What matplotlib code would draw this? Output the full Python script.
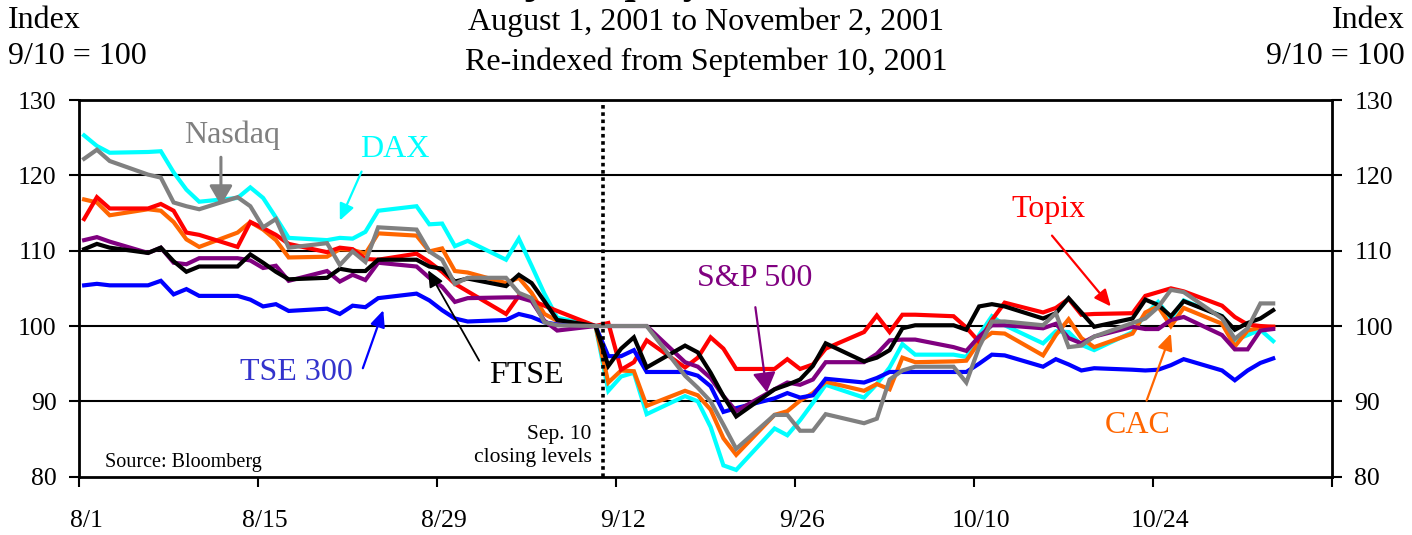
import pandas as pd
import matplotlib.pyplot as plt
from matplotlib.transforms import ScaledTranslation

plt.rcParams['font.family'] = ['Liberation Serif', 'DejaVu Serif']

# trading days, 2001
dates = ['8/1', '8/2', '8/3', '8/6', '8/7', '8/8', '8/9', '8/10', '8/13', '8/14',
         '8/15', '8/16', '8/17', '8/20', '8/21', '8/22', '8/23', '8/24', '8/27', '8/28',
         '8/29', '8/30', '8/31',
         '9/3', '9/4', '9/5', '9/6', '9/7', '9/10', '9/11', '9/12', '9/13', '9/14',
         '9/17', '9/18', '9/19', '9/20', '9/21', '9/24', '9/25', '9/26', '9/27', '9/28',
         '10/1', '10/2', '10/3', '10/4', '10/5', '10/8', '10/9', '10/10', '10/11', '10/12',
         '10/15', '10/16', '10/17', '10/18', '10/19', '10/22', '10/23', '10/24', '10/25',
         '10/26', '10/29', '10/30', '10/31',
         '11/1', '11/2']

dax = [125.3, 123.9, 123.0, 123.1, 123.2, 120.4, 118.1, 116.5, 117.0, 118.4,
       117.0, 114.4, 111.7, 111.4, 111.7, 111.6, 112.5, 115.3, 115.9, 113.5,
       113.6, 110.6, 111.3,
       108.8, 111.6, 108.0, 104.3, 101.1, 100.0, 91.4, 93.3, 93.8, 88.3,
       90.7, 90.0, 86.6, 81.5, 80.9, 86.4, 85.5, 87.5, 89.8, 92.2,
       90.5, 92.3, 94.5, 97.6, 96.2, 96.2, 95.9, 98.8, 101.3, 100.1,
       97.7, 99.3, 99.2, 97.5, 96.8, 99.2, 101.5, 103.2, 101.0,
       103.4, 101.3, 98.1, 98.8,
       99.5, 98.0]

nasdaq = [122.2, 123.4, 121.9, 120.1, 119.7, 116.4, 115.9, 115.5, 117.1, 115.9,
          113.1, 114.2, 110.4, 111.0, 108.1, 109.9, 108.5, 113.1, 112.8, 109.9,
          108.8, 105.6, 106.4,
          106.4, 104.4, 103.7, 100.5, 100.1, 100.0, 100.0, 100.0, 100.0, 100.0,
          93.4, 91.8, 90.0, 86.9, 83.7, 88.2, 88.2, 86.1, 86.1, 88.3,
          87.1, 87.7, 92.9, 94.1, 94.6, 94.6, 92.5, 97.2, 100.6, 100.6,
          100.1, 101.7, 97.2, 97.4, 98.6, 100.4, 101.0, 102.5, 104.8,
          104.5, 101.0, 98.3, 99.7,
          103.0, 103.0]

topix = [114.2, 117.1, 115.6, 115.6, 116.2, 115.3, 112.4, 112.1, 110.5, 113.8,
         113.0, 112.1, 110.9, 109.8, 110.4, 110.2, 108.9, 108.8, 109.6, 108.5,
         107.2, 105.6, 104.6,
         101.6, 104.0, 103.4, 102.7, 102.0, 100.0, 100.4, 94.2, 95.2, 98.1,
         94.5, 95.8, 98.5, 97.0, 94.3, 94.3, 95.6, 94.3, 94.9, 97.0,
         99.2, 101.4, 99.2, 101.5, 101.5, 101.3, 99.8, 97.9, 100.8, 103.1,
         101.8, 102.4, 103.6, 101.5, 101.6, 101.7, 104.0, 104.5, 105.0,
         104.6, 102.7, 101.2, 100.2,
         100.0, 99.9]

cac = [116.8, 116.4, 114.7, 115.5, 115.3, 113.8, 111.5, 110.5, 112.4, 113.8,
       112.8, 111.4, 109.1, 109.2, 110.2, 110.1, 109.6, 112.3, 112.0, 109.9,
       110.3, 107.3, 107.1,
       105.7, 106.4, 104.4, 101.6, 100.7, 100.0, 92.5, 94.1, 94.0, 89.4,
       91.4, 90.8, 88.9, 85.1, 82.9, 88.2, 88.7, 90.1, 91.1, 92.6,
       91.4, 92.3, 91.6, 95.8, 95.2, 95.3, 95.4, 97.9, 99.1, 99.0,
       96.1, 98.8, 100.9, 98.4, 97.2, 99.0, 101.8, 102.6, 100.0,
       102.4, 100.3, 97.3, 99.4,
       99.8, 99.9]

ftse = [110.2, 110.9, 110.4, 109.7, 110.4, 108.6, 107.2, 107.9, 107.9, 109.5,
        108.4, 107.2, 106.2, 106.4, 107.6, 107.3, 107.3, 108.8, 108.8, 107.9,
        107.6, 105.9, 106.3,
        105.3, 106.8, 105.7, 103.3, 100.8, 100.0, 94.7, 97.0, 98.5, 94.5,
        97.4, 96.5, 93.8, 90.7, 88.0, 91.6, 92.2, 92.9, 94.7, 97.7,
        95.3, 95.8, 96.8, 99.7, 100.1, 100.1, 99.5, 102.6, 102.9, 102.6,
        101.0, 101.7, 103.7, 101.8, 99.9, 101.0, 103.5, 102.8, 101.3,
        103.3, 101.3, 99.5, 100.4,
        101.0, 102.1]

sp500 = [111.4, 111.8, 111.2, 109.7, 110.4, 108.4, 108.2, 109.0, 109.0, 108.7,
         107.7, 108.0, 106.0, 107.3, 105.9, 106.8, 106.1, 108.4, 107.9, 106.4,
         105.2, 103.2, 103.7,
         103.8, 103.8, 103.3, 100.7, 99.4, 100.0, 100.0, 100.0, 100.0, 100.0,
         95.2, 94.6, 93.1, 90.7, 88.7, 91.6, 92.5, 92.2, 92.9, 95.2,
         95.2, 96.3, 98.1, 98.2, 98.2, 97.2, 96.7, 98.6, 100.1, 100.1,
         99.7, 100.3, 98.4, 97.7, 98.6, 99.9, 99.6, 99.6, 100.8,
         101.2, 98.8, 96.9, 96.9,
         99.4, 99.6]

tse300 = [105.4, 105.6, 105.4, 105.4, 106.0, 104.2, 104.9, 104.0, 104.0, 103.5,
          102.6, 102.9, 102.0, 102.3, 101.6, 102.7, 102.5, 103.7, 104.3, 103.4,
          102.1, 101.0, 100.6,
          100.8, 101.6, 101.2, 100.5, 100.2, 100.0, 96.0, 96.0, 96.8, 93.9,
          93.9, 93.4, 92.0, 88.6, 89.1, 90.4, 91.1, 90.5, 90.8, 93.0,
          92.5, 93.1, 93.9, 93.9, 93.9, 93.9, 93.9, 95.0, 96.2, 96.1,
          94.6, 95.6, 94.9, 94.1, 94.4, 94.2, 94.1, 94.2, 94.8,
          95.6, 94.1, 92.8, 94.1,
          95.1, 95.7]

tick_labels = ['8/1', '8/15', '8/29', '9/12', '9/26', '10/10', '10/24', '']

start = pd.Timestamp('2001-08-01')
d = pd.to_datetime([s + '/2001' for s in dates], format='%m/%d/%Y')
x = (d - start).days + 0.4

fig = plt.figure(figsize=(14.12, 5.35), dpi=100)
ax = fig.add_axes([79 / 1412, 58.3 / 535, 1253 / 1412, 376.7 / 535])

series = [
    (dax, '#00FFFF'),
    (cac, '#FF6600'),
    (topix, '#FF0000'),
    (tse300, '#0000FF'),
    (sp500, '#800080'),
    (ftse, '#000000'),
    (nasdaq, '#808080'),
]
for vals, c in series:
    ax.plot(x, vals, color=c, lw=3, solid_joinstyle='miter', zorder=3)

ax.set_xlim(0, 98)
ax.set_ylim(80, 130)
for yv in [90, 100, 110, 120]:
    ax.axhline(yv, color='black', lw=1.5, zorder=1)
ax.axvline(40.95, color='black', lw=2.6, dashes=(1, 1), zorder=4)

ax.set_xticks(range(0, 99, 14))
ax.set_xticklabels(tick_labels)
ax.set_yticks(range(80, 131, 10))
ax.tick_params(axis='x', direction='out', length=7, width=1.5, pad=17, labelsize=18.5)
ax.tick_params(axis='y', direction='out', length=7, width=1.5, pad=9, labelsize=18.5,
               right=True, labelright=True)
off = ScaledTranslation(7 / 100, 0, fig.dpi_scale_trans)
for lab in ax.get_xticklabels():
    lab.set_transform(lab.get_transform() + off)
for sp in ax.spines.values():
    sp.set_linewidth(2)

# series labels and arrows
fs = 23
ax.text(12.0, 125.3, 'Nasdaq', color='#808080', fontsize=fs, ha='center', va='center')
ax.annotate('', xy=(11.1, 116.0), xytext=(11.1, 122.4),
            arrowprops=dict(arrowstyle='-|>,head_length=1.2,head_width=0.7', mutation_scale=10,
                            color='#808080', lw=2.2, shrinkA=0, shrinkB=0))
ax.text(24.7, 123.4, 'DAX', color='#00FFFF', fontsize=fs, ha='center', va='center')
ax.annotate('', xy=(20.4, 114.0), xytext=(22.1, 120.5),
            arrowprops=dict(arrowstyle='-|>,head_length=1.0,head_width=0.45', mutation_scale=10,
                            color='#00FFFF', lw=1.6, shrinkA=0, shrinkB=0))
ax.text(75.8, 115.4, 'Topix', color='#FF0000', fontsize=fs, ha='center', va='center')
ax.annotate('', xy=(80.7, 102.6), xytext=(76.1, 112.0),
            arrowprops=dict(arrowstyle='-|>,head_length=1.0,head_width=0.45', mutation_scale=10,
                            color='#FF0000', lw=1.6, shrinkA=0, shrinkB=0))
ax.text(52.85, 106.3, 'S&P 500', color='#800080', fontsize=fs, ha='center', va='center')
ax.annotate('', xy=(53.8, 91.2), xytext=(52.9, 102.5),
            arrowprops=dict(arrowstyle='-|>,head_length=1.2,head_width=0.7', mutation_scale=10,
                            color='#800080', lw=1.6, shrinkA=0, shrinkB=0))
ax.text(17.0, 93.8, 'TSE 300', color='#3333CC', fontsize=fs, ha='center', va='center')
ax.annotate('', xy=(23.8, 102.1), xytext=(22.2, 94.4),
            arrowprops=dict(arrowstyle='-|>,head_length=1.0,head_width=0.45', mutation_scale=10,
                            color='#0000FF', lw=1.6, shrinkA=0, shrinkB=0))
ax.text(35.0, 93.4, 'FTSE', color='black', fontsize=fs, ha='center', va='center')
ax.annotate('', xy=(27.3, 107.4), xytext=(31.3, 95.4),
            arrowprops=dict(arrowstyle='-|>,head_length=1.0,head_width=0.45', mutation_scale=10,
                            color='black', lw=1.3, shrinkA=0, shrinkB=0))
ax.text(82.8, 86.8, 'CAC', color='#FF6600', fontsize=fs, ha='center', va='center')
ax.annotate('', xy=(85.4, 99.0), xytext=(83.5, 90.1),
            arrowprops=dict(arrowstyle='-|>,head_length=1.0,head_width=0.45', mutation_scale=10,
                            color='#FF6600', lw=1.6, shrinkA=0, shrinkB=0))

ax.text(40.1, 84.1, 'Sep. 10\nclosing levels', fontsize=15.5, ha='right', va='center',
        linespacing=1.25)
ax.text(2.0, 81.9, 'Source: Bloomberg', fontsize=14.5, ha='left', va='center')

# header text (first title line is cut off at the top edge, as in the original)
fig.text(706 / 1412, 1 + 7 / 535, 'Major Equity Price Indexes', fontsize=29,
         fontweight='bold', ha='center', va='baseline')
fig.text(706 / 1412, 1 - 22 / 535, 'August 1, 2001 to November 2, 2001', fontsize=23,
         ha='center', va='center')
fig.text(706 / 1412, 1 - 62 / 535, 'Re-indexed from September 10, 2001', fontsize=23,
         ha='center', va='center')
fig.text(8 / 1412, 1 - 20 / 535, 'Index', fontsize=23, ha='left', va='center')
fig.text(8 / 1412, 1 - 57 / 535, '9/10 = 100', fontsize=23, ha='left', va='center')
fig.text(1405 / 1412, 1 - 20 / 535, 'Index', fontsize=23, ha='right', va='center')
fig.text(1405 / 1412, 1 - 57 / 535, '9/10 = 100', fontsize=23, ha='right', va='center')

fig.savefig('out.png', dpi=100)
